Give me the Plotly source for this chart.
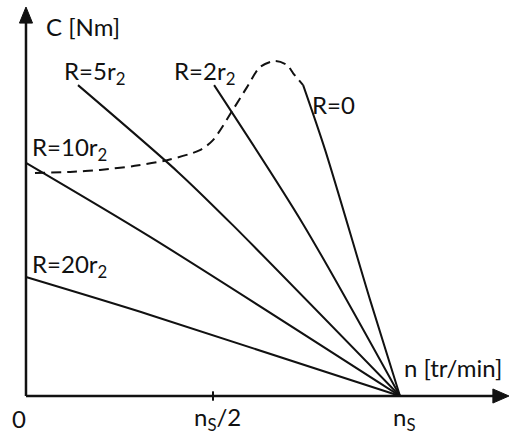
import plotly.graph_objects as go

# Torque–speed characteristics of an induction motor for several
# rotor resistances (n in units of synchronous speed, C relative to Cmax)
NS = 1.0

r20_n = [0.0, 0.332, 1.0]
r20_c = [0.355, 0.242, 0.0]

r10_n = [0.0, 0.332, 1.0]
r10_c = [0.696, 0.475, 0.0]

r5_n = [0.139, 0.406, 0.553, 1.0]
r5_c = [0.928, 0.669, 0.510, 0.0]

r2_n = [0.503, 0.741, 1.0]
r2_c = [0.928, 0.513, 0.0]

r0_n = [0.741, 0.800, 0.920, 1.0]
r0_c = [0.928, 0.734, 0.287, 0.0]

# natural characteristic (dashed)
nat_n = [0.024, 0.118, 0.198, 0.291, 0.377, 0.465, 0.500, 0.553, 0.591,
         0.626, 0.666, 0.698, 0.714, 0.741]
nat_c = [0.666, 0.669, 0.675, 0.687, 0.704, 0.734, 0.764, 0.854, 0.922,
         0.982, 1.000, 0.988, 0.964, 0.928]

tick_n = [0.0, NS / 2, NS]
tick_text = ["0", "n<sub>S</sub>/2", "n<sub>S</sub>"]

W, H = 523, 434
X_RANGE = [-0.0695, 1.3289]
Y_RANGE = [-0.1134, 1.1821]

INK = "#111111"
FONT = "Lato"

fig = go.Figure()

line_style = dict(color=INK, width=2, shape="spline", smoothing=0.8)
for xs, ys in [(r20_n, r20_c), (r10_n, r10_c), (r5_n, r5_c),
               (r2_n, r2_c), (r0_n, r0_c)]:
    fig.add_trace(go.Scatter(x=xs, y=ys, mode="lines", line=line_style,
                             hoverinfo="skip", showlegend=False))

fig.add_trace(go.Scatter(x=nat_n, y=nat_c, mode="lines",
                         line=dict(color=INK, width=2, dash="10px,6px",
                                   shape="spline", smoothing=0.8),
                         hoverinfo="skip", showlegend=False))

# axes with arrowheads
x_tip, y_tip = 1.2914, 1.1612
fig.add_shape(type="line", x0=0, y0=0, x1=x_tip - 0.02, y1=0,
              line=dict(color=INK, width=2.5))
fig.add_shape(type="line", x0=0, y0=0, x1=0, y1=y_tip - 0.02,
              line=dict(color=INK, width=2.5))
fig.add_shape(type="path",
              path=f"M {x_tip} 0 L {x_tip - 0.043} 0.021 L {x_tip - 0.043} -0.021 Z",
              fillcolor=INK, line=dict(color=INK, width=1))
fig.add_shape(type="path",
              path=f"M 0 {y_tip} L -0.0175 {y_tip - 0.048} L 0.0175 {y_tip - 0.048} Z",
              fillcolor=INK, line=dict(color=INK, width=1))
# tick at n_S/2
fig.add_shape(type="line", x0=NS / 2, y0=-0.014, x1=NS / 2, y1=0.014,
              line=dict(color=INK, width=2))

font = dict(family=FONT, size=24, color=INK)

def label(text, x, y, xanchor="left", yanchor="middle"):
    fig.add_annotation(text=text, x=x, y=y, xref="x", yref="y",
                       showarrow=False, xanchor=xanchor, yanchor=yanchor,
                       font=font, borderpad=0)

label("C [Nm]", 0.050, 1.102)
label("R=5r<sub>2</sub>", 0.098, 0.967)
label("R=2r<sub>2</sub>", 0.392, 0.967)
label("R=10r<sub>2</sub>", 0.013, 0.740)
label("R=20r<sub>2</sub>", 0.013, 0.391)
label("R=0", 0.763, 0.870)
label("n [tr/min]", 1.008, 0.084)

label(tick_text[0], -0.018, -0.066, xanchor="center")
for n, t in zip(tick_n[1:], tick_text[1:]):
    label(t, n + 0.012, -0.066, xanchor="center")

fig.update_layout(
    width=W, height=H,
    margin=dict(l=0, r=0, t=0, b=0),
    paper_bgcolor="white", plot_bgcolor="white",
    xaxis=dict(range=X_RANGE, visible=False, fixedrange=True),
    yaxis=dict(range=Y_RANGE, visible=False, fixedrange=True),
    showlegend=False,
)

fig.write_html("out.html")
